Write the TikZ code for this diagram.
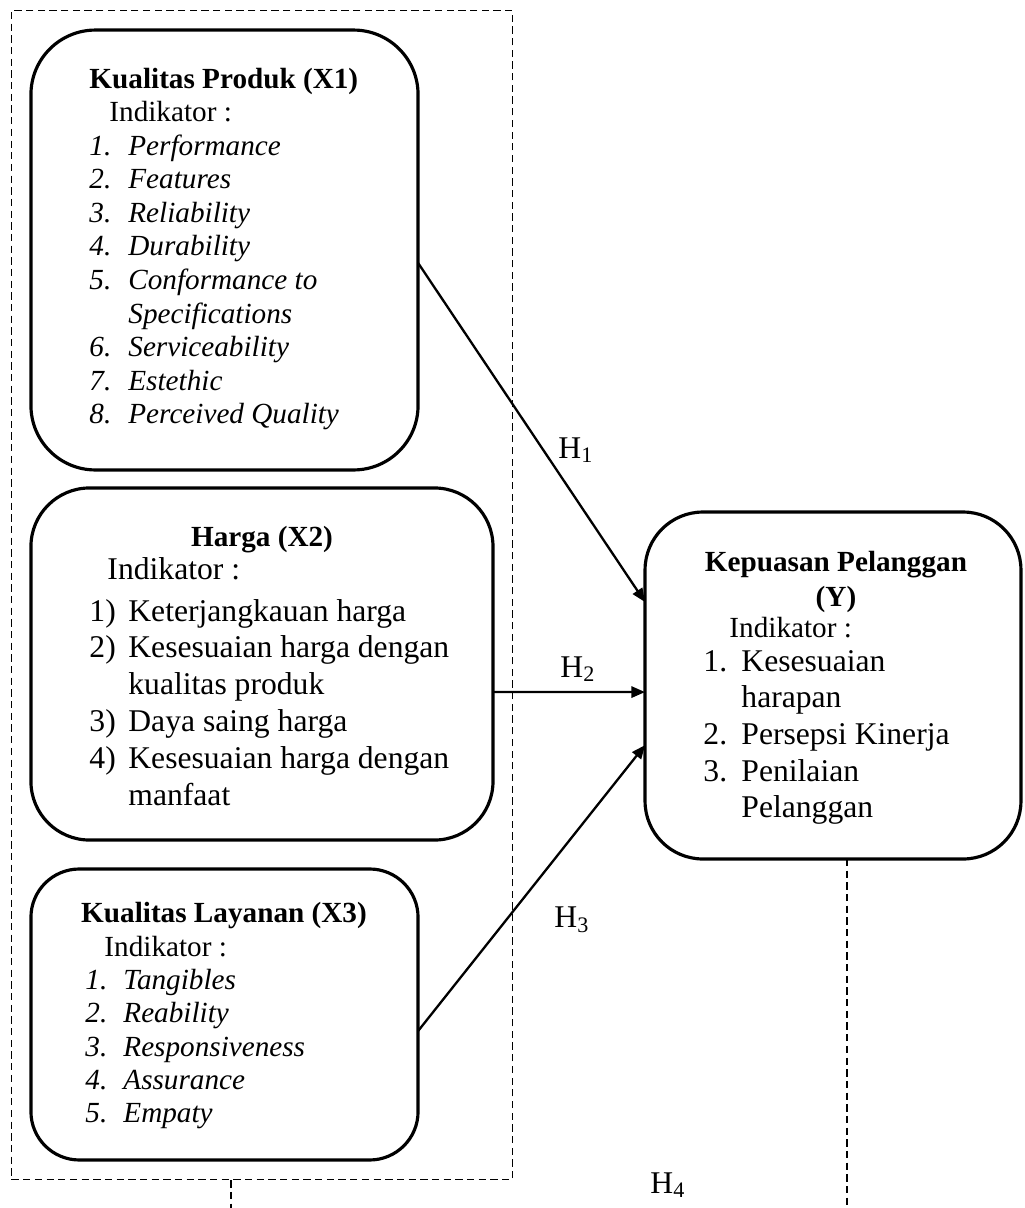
\documentclass[tikz,border=0pt]{standalone}
\usepackage{fontspec}
\setmainfont{Liberation Serif}
\usetikzlibrary{arrows.meta, positioning, fit}

\newcommand{\ftwelve}{\fontsize{12}{13.8}\selectfont}
\newcommand{\fthirteen}{\fontsize{13}{15.2}\selectfont}

\begin{document}
\begin{tikzpicture}[
    x=0.411pt, y=-0.411pt,
    box/.style={draw, rectangle, rounded corners=#1, line width=1.3pt, inner sep=0pt, outer sep=0pt},
    group/.style={draw, rectangle, line width=0.7pt, dash pattern=on 3pt off 1.8pt, inner sep=8pt},
    txt/.style={inner sep=0pt},
    lbl/.style={inner sep=0pt, font=\fthirteen},
    arrow/.style={-{Triangle[length=5.6pt, width=4.6pt]}, line width=0.95pt},
    dashline/.style={line width=0.7pt, dash pattern=on 3pt off 1.8pt}
]
    \useasboundingbox (0,0) rectangle (1024,1208);

    % Kualitas Produk
    \node[box=26.5pt, minimum width=159.1pt, minimum height=180.8pt] (produk) at (224.5,250) {};

    % Harga
    \node[box=24.1pt, minimum width=189.9pt, minimum height=144.7pt, below right=7.4pt and 0pt of produk.south west] (harga) {};

    % Kualitas Layanan
    \node[box=19.9pt, minimum width=159.1pt, minimum height=119.6pt, below right=11.9pt and 0pt of harga.south west] (layanan) {};

    % Kepuasan Pelanggan
    \node[box=23.8pt, minimum width=154.5pt, minimum height=142.6pt] (kepuasan) at (833,685.5) {};

    % dashed frame round X1, X2, X3
    \node[group, fit=(produk)(harga)(layanan)] (xgroup) {};

    % text of X1
    \node[txt, anchor=base west] (produktxt) at (89,88) {\ftwelve
      \begin{tabular}[t]{@{}p{16pt}@{}l@{}}
        \multicolumn{2}{@{}l@{}}{\textbf{Kualitas Produk (X1)}}\\
        \multicolumn{2}{@{\hspace{8.2pt}}l@{}}{Indikator :}\\
        \textit{1.} & \textit{Performance}\\
        \textit{2.} & \textit{Features}\\
        \textit{3.} & \textit{Reliability}\\
        \textit{4.} & \textit{Durability}\\
        \textit{5.} & \textit{Conformance to}\\
                    & \textit{Specifications}\\
        \textit{6.} & \textit{Serviceability}\\
        \textit{7.} & \textit{Estethic}\\
        \textit{8.} & \textit{Perceived Quality}
      \end{tabular}};

    % text of X2
    \node[txt, anchor=base] (hargajudul) at (262,546) {\ftwelve\textbf{Harga (X2)}};
    \node[txt, anchor=base west] (hargaind) at (107,579) {\fthirteen Indikator :};
    \node[txt, anchor=base west] (hargatxt) at (89,621) {\fthirteen
      \begin{tabular}[t]{@{}p{16pt}@{}l@{}}
        1) & Keterjangkauan harga\\
        2) & Kesesuaian harga dengan\\
           & kualitas produk\\
        3) & Daya saing harga\\
        4) & Kesesuaian harga dengan\\
           & manfaat
      \end{tabular}};

    % text of X3
    \node[txt, anchor=base] (layananjudul) at (224,922) {\ftwelve\textbf{Kualitas Layanan (X3)}};
    \node[txt, anchor=base west] (layanantxt) at (85,956) {\fontsize{12}{13.7}\selectfont
      \begin{tabular}[t]{@{}p{15.6pt}@{}l@{}}
        \multicolumn{2}{@{\hspace{7.8pt}}l@{}}{Indikator :}\\
        \textit{1.} & \textit{Tangibles}\\
        \textit{2.} & \textit{Reability}\\
        \textit{3.} & \textit{Responsiveness}\\
        \textit{4.} & \textit{Assurance}\\
        \textit{5.} & \textit{Empaty}
      \end{tabular}};

    % text of Y
    \node[txt, anchor=base] (kepuasanjudul) at (836,571) {\fontsize{12}{14.4}\selectfont
      \begin{tabular}[t]{@{}c@{}}
        \textbf{Kepuasan Pelanggan}\\
        \textbf{(Y)}
      \end{tabular}};
    \node[txt, anchor=base west] (kepuasanind) at (729,637) {\ftwelve Indikator :};
    \node[txt, anchor=base west] (kepuasantxt) at (703,671) {\fontsize{13}{15.1}\selectfont
      \begin{tabular}[t]{@{}p{15.6pt}@{}l@{}}
        1. & Kesesuaian\\
           & harapan\\
        2. & Persepsi Kinerja\\
        3. & Penilaian\\
           & Pelanggan
      \end{tabular}};

    % hypotheses
    \draw[arrow] ([yshift=-5.3pt]produk.east) -- ([yshift=34.3pt]kepuasan.west);
    \draw[arrow] ([yshift=-11.5pt]harga.east) -- ([yshift=-2.7pt]kepuasan.west);
    \draw[arrow] ([yshift=-6.8pt]layanan.east) -- ([yshift=-24.5pt]kepuasan.west);

    \node[lbl] (h1) at (576,450) {H\textsubscript{1}};
    \node[lbl] (h2) at (578,669) {H\textsubscript{2}};
    \node[lbl] (h3) at (572,920) {H\textsubscript{3}};
    \node[lbl] (h4) at (668,1185) {H\textsubscript{4}};

    % H4 lines running off the page
    \coordinate (xbawah) at (231,1208);
    \coordinate (ybawah) at (847,1208);
    \draw[dashline] (xgroup.south -| xbawah) -- (xbawah);
    \draw[dashline] (kepuasan.south -| ybawah) -- (ybawah);

\end{tikzpicture}
\end{document}
